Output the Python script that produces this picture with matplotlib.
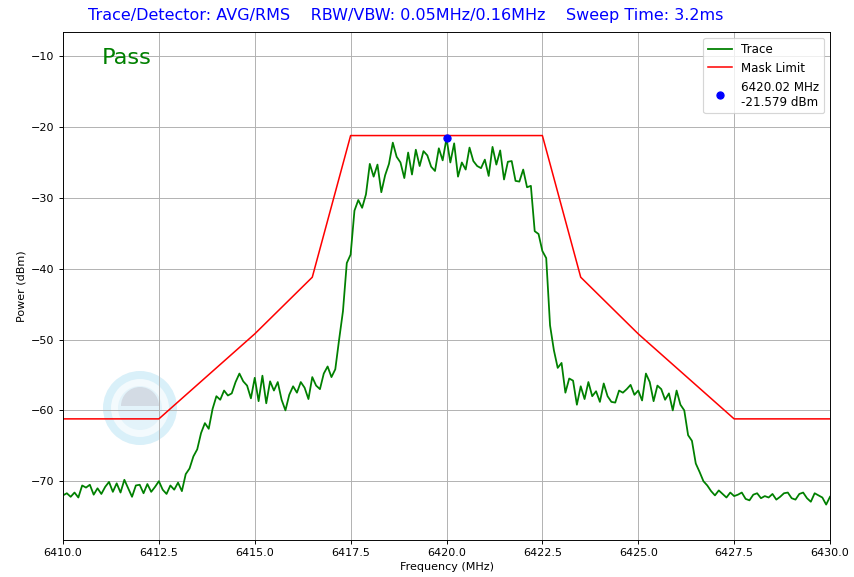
import numpy as np
import matplotlib
matplotlib.use("Agg")
import matplotlib.pyplot as plt
from matplotlib.patches import Circle, Wedge

# ---- data ----
f_start, f_stop = 6410.0, 6430.0
power_dbm = [
    -72.0, -71.7, -72.2, -71.6, -72.3, -70.6, -70.9, -70.5, -71.9, -71.0,
    -71.8, -70.8, -70.1, -71.5, -70.3, -71.6, -69.8, -71.0, -72.2, -70.6,
    -70.5, -71.7, -70.4, -71.5, -70.8, -70.0, -71.2, -71.8, -70.6, -71.2,
    -70.2, -71.4, -69.0, -68.2, -66.5, -65.5, -63.2, -61.8, -62.6, -59.8,
    -58.0, -58.5, -57.2, -57.9, -57.6, -56.0, -54.8, -55.9, -56.5, -58.3,
    -55.4, -58.7, -55.1, -59.0, -55.9, -57.2, -56.0, -58.5, -60.0, -57.8,
    -56.6, -57.5, -56.0, -56.8, -58.4, -55.3, -56.5, -57.0, -54.8, -53.8,
    -55.3, -54.2, -50.0, -46.0, -39.2, -38.0, -31.8, -30.3, -31.4, -29.5,
    -25.2, -27.0, -25.3, -29.2, -26.8, -25.2, -22.2, -24.2, -25.0, -27.2,
    -23.6, -26.7, -23.2, -25.5, -23.4, -24.0, -25.6, -26.2, -23.0, -24.7,
    -21.6, -25.0, -22.3, -27.0, -25.0, -26.0, -22.9, -24.8, -25.5, -25.8,
    -24.6, -26.9, -22.8, -25.3, -23.3, -27.4, -24.9, -24.8, -27.6, -27.7,
    -26.0, -28.5, -28.3, -34.7, -35.1, -37.5, -38.5, -48.0, -51.5, -54.0,
    -53.3, -57.5, -55.5, -55.8, -59.2, -56.6, -58.4, -56.0, -58.0, -57.3,
    -58.8, -56.2, -58.0, -58.8, -58.9, -57.2, -57.5, -57.0, -56.4, -57.8,
    -57.2, -58.6, -54.8, -56.0, -58.7, -56.5, -57.0, -58.5, -57.6, -60.0,
    -57.2, -59.2, -60.0, -63.5, -64.3, -67.5, -68.7, -70.0, -70.6, -71.4,
    -72.0, -71.3, -71.8, -72.3, -71.6, -72.1, -71.9, -71.6, -72.5, -72.7,
    -71.9, -71.7, -72.4, -72.1, -72.3, -71.8, -72.6, -72.2, -71.7, -71.6,
    -72.4, -72.6, -71.8, -71.6, -72.4, -72.9, -71.7, -72.0, -72.3, -73.3,
    -72.2,
]
mask_freq = [6410.0, 6412.5, 6415.0, 6416.5, 6417.5, 6422.5, 6423.5, 6425.0, 6427.5, 6430.0]
mask_dbm = [-61.2, -61.2, -49.2, -41.2, -21.2, -21.2, -41.2, -49.2, -61.2, -61.2]
peak_freq = 6420.02
peak_dbm = -21.579
title_text = "Trace/Detector: AVG/RMS    RBW/VBW: 0.05MHz/0.16MHz    Sweep Time: 3.2ms"
status_text = "Pass"

freq = np.linspace(f_start, f_stop, len(power_dbm))
power = np.array(power_dbm)

plt.rcParams["font.size"] = 9.4
fig = plt.figure(figsize=(10, 577 / 85.4), dpi=85.4)
ax = fig.add_axes([63 / 854, 1 - 540 / 577, 767 / 854, 508 / 577])

# faint watermark logo (decoration)
tr = fig.dpi_scale_trans
cx, cy = 140 / 85.4, (577 - 408) / 85.4
ax.add_patch(Circle((cx, cy), 37 / 85.4, transform=tr, facecolor="#d9f0f9", edgecolor="none", zorder=0.6))
ax.add_patch(Circle((cx, cy), 29 / 85.4, transform=tr, facecolor="#f3fafd", edgecolor="none", zorder=0.6))
ax.add_patch(Circle((cx, cy), 22 / 85.4, transform=tr, facecolor="#e3f3fa", edgecolor="none", zorder=0.6))
ax.add_patch(Wedge((cx, cy + 2 / 85.4), 19 / 85.4, 0, 180, transform=tr, facecolor="#d3dbe4", edgecolor="none", zorder=0.6))

ax.plot(freq, power, color="green", lw=1.5, label="Trace")
ax.plot(mask_freq, mask_dbm, color="red", lw=1.3, label="Mask Limit")
ax.plot([peak_freq], [peak_dbm], "o", color="blue", ms=6,
        label=f"{peak_freq:.2f} MHz\n{peak_dbm:.3f} dBm")

ax.set_xlim(f_start, f_stop)
ax.set_ylim(power.min() - 5, peak_dbm + 15)
ax.set_xticks(np.arange(6410, 6430.1, 2.5))
ax.set_xlabel("Frequency (MHz)", labelpad=3)
ax.set_ylabel("Power (dBm)")
ax.grid(True)
ax.set_title(title_text, color="blue", fontsize=13.5, pad=10, x=(406 - 63) / 767)
ax.text(0.0505, 0.949, status_text, transform=ax.transAxes, color="green",
        fontsize=19, va="center")
ax.legend(loc="upper right", fontsize=10)

fig.savefig("out.png", dpi=85.4)
